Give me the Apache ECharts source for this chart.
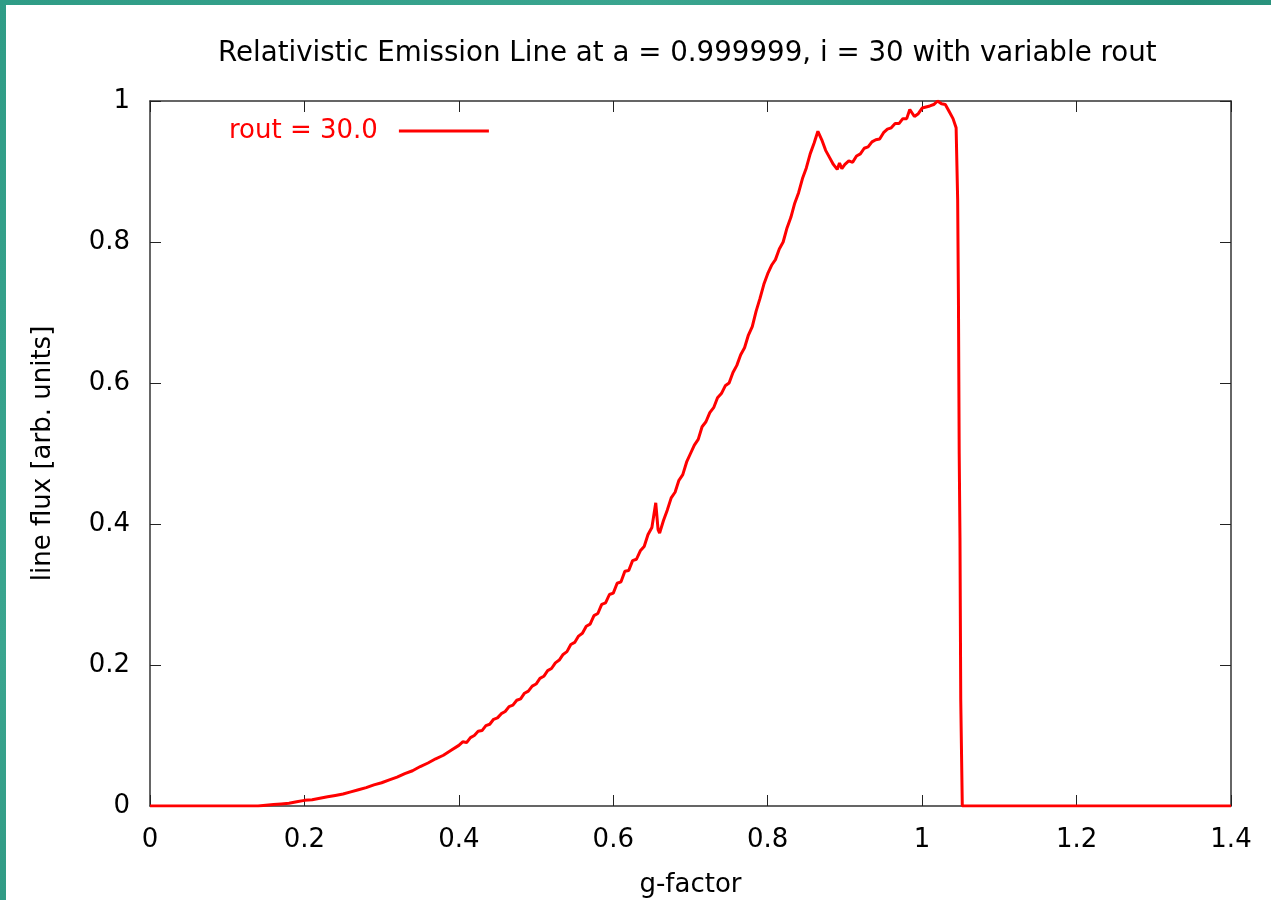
<!DOCTYPE html>
<html>
<head>
<meta charset="utf-8">
<script src="https://cdn.jsdelivr.net/npm/echarts@6/dist/echarts.min.js"></script>
<style>
  html, body { margin: 0; padding: 0; width: 1271px; height: 900px; overflow: hidden; }
  body {
    background: linear-gradient(135deg, #2f9c86 0%, #3aa58f 30%, #268f79 55%, #42a893 80%, #2a957f 100%);
    position: relative;
  }
  #chart { position: absolute; left: 6px; top: 5px; width: 1265px; height: 895px; background: #ffffff; }
</style>
</head>
<body>
<div id="chart"></div>
<script>
// ---- data ----
const titleText = 'Relativistic Emission Line at a = 0.999999, i = 30 with variable rout';
const xAxisName = 'g-factor';
const yAxisName = 'line flux [arb. units]';
const seriesName = 'rout = 30.0';

const gFactor = [
  0.000, 0.050, 0.100, 0.140, 0.150, 0.160, 0.170, 0.180, 0.190, 0.200,
  0.210, 0.220, 0.230, 0.240, 0.250, 0.260, 0.270, 0.280, 0.290, 0.300,
  0.310, 0.320, 0.330, 0.340, 0.350, 0.360, 0.370, 0.380, 0.390, 0.400,
  0.405, 0.410, 0.415, 0.420, 0.425, 0.430, 0.435, 0.440, 0.445, 0.450,
  0.455, 0.460, 0.465, 0.470, 0.475, 0.480, 0.485, 0.490, 0.495, 0.500,
  0.505, 0.510, 0.515, 0.520, 0.525, 0.530, 0.535, 0.540, 0.545, 0.550,
  0.555, 0.560, 0.565, 0.570, 0.575, 0.580, 0.585, 0.590, 0.595, 0.600,
  0.605, 0.610, 0.615, 0.620, 0.625, 0.630, 0.635, 0.640, 0.645, 0.650,
  0.655, 0.658, 0.660, 0.665, 0.670, 0.675, 0.680, 0.685, 0.690, 0.695,
  0.700, 0.705, 0.710, 0.715, 0.720, 0.725, 0.730, 0.735, 0.740, 0.745,
  0.750, 0.755, 0.760, 0.765, 0.770, 0.775, 0.780, 0.785, 0.790, 0.795,
  0.800, 0.805, 0.810, 0.815, 0.820, 0.825, 0.830, 0.835, 0.840, 0.845,
  0.850, 0.855, 0.860, 0.865, 0.870, 0.875, 0.880, 0.885, 0.890, 0.893,
  0.896, 0.900, 0.905, 0.910, 0.915, 0.920, 0.925, 0.930, 0.935, 0.940,
  0.945, 0.950, 0.955, 0.960, 0.965, 0.970, 0.975, 0.980, 0.984, 0.990,
  0.995, 1.000, 1.010, 1.015, 1.020, 1.025, 1.030, 1.035, 1.040, 1.044,
  1.046, 1.047, 1.048, 1.049, 1.050, 1.052, 1.100, 1.200, 1.300, 1.400
];
const lineFlux = [
  0.000, 0.000, 0.000, 0.000, 0.001, 0.002, 0.003, 0.004, 0.006, 0.008,
  0.009, 0.011, 0.013, 0.015, 0.017, 0.020, 0.023, 0.026, 0.030, 0.033,
  0.037, 0.041, 0.046, 0.050, 0.056, 0.061, 0.067, 0.072, 0.079, 0.086,
  0.091, 0.090, 0.097, 0.100, 0.106, 0.107, 0.114, 0.116, 0.123, 0.125,
  0.131, 0.134, 0.141, 0.143, 0.150, 0.152, 0.160, 0.163, 0.170, 0.173,
  0.181, 0.184, 0.192, 0.195, 0.203, 0.207, 0.215, 0.219, 0.229, 0.232,
  0.241, 0.245, 0.255, 0.258, 0.270, 0.273, 0.286, 0.288, 0.300, 0.302,
  0.316, 0.318, 0.333, 0.334, 0.348, 0.350, 0.362, 0.368, 0.385, 0.395,
  0.430, 0.392, 0.387, 0.405, 0.420, 0.437, 0.445, 0.462, 0.470, 0.488,
  0.500, 0.512, 0.520, 0.538, 0.545, 0.558, 0.565, 0.579, 0.585, 0.596,
  0.600, 0.615, 0.625, 0.640, 0.650, 0.668, 0.680, 0.702, 0.720, 0.740,
  0.755, 0.767, 0.775, 0.790, 0.800, 0.820, 0.835, 0.855, 0.870, 0.890,
  0.905, 0.925, 0.940, 0.957, 0.945, 0.930, 0.920, 0.910, 0.903, 0.912,
  0.904, 0.910, 0.915, 0.913, 0.922, 0.925, 0.933, 0.935, 0.942, 0.945,
  0.946, 0.955, 0.960, 0.962, 0.968, 0.968, 0.975, 0.975, 0.988, 0.978,
  0.982, 0.990, 0.993, 0.995, 1.000, 0.996, 0.995, 0.985, 0.975, 0.962,
  0.860, 0.720, 0.500, 0.380, 0.150, 0.000, 0.000, 0.000, 0.000, 0.000
];
const xTicks = { min: 0, max: 1.4, interval: 0.2 };
const yTicks = { min: 0, max: 1, interval: 0.2 };

const points = gFactor.map((g, i) => [g, lineFlux[i]]);

const fontFam = '"DejaVu Sans", Verdana, sans-serif';
const chart = echarts.init(document.getElementById('chart'), null, { renderer: 'canvas' });

const axisLineStyle = { color: '#333333', width: 1.5 };
const tickCommon = { show: true, inside: true, length: 11, lineStyle: { color: '#222222', width: 1 } };

chart.setOption({
  backgroundColor: '#ffffff',
  animation: false,
  title: {
    text: titleText,
    left: 207,
    top: 30,
    textStyle: { fontFamily: fontFam, fontSize: 27.7, fontWeight: 'normal', color: '#000000' }
  },
  legend: {
    show: true,
    left: 218,
    top: 108,
    align: 'right',
    itemWidth: 90,
    itemHeight: 14,
    data: [{ name: seriesName, icon: 'path://M0,0 L90,0 L90,3 L0,3 Z' }],
    textStyle: { fontFamily: fontFam, fontSize: 26, color: '#ff0000', padding: [0, 16, 0, 0] }
  },
  grid: { left: 144, top: 96, right: 40, bottom: 94, show: false, outerBoundsMode: 'none', containLabel: false },
  xAxis: [{
    type: 'value',
    min: xTicks.min, max: xTicks.max, interval: xTicks.interval,
    name: xAxisName, nameLocation: 'middle', nameGap: 66,
    nameTextStyle: { fontFamily: fontFam, fontSize: 26, color: '#000000' },
    axisLine: { show: true, onZero: false, lineStyle: axisLineStyle },
    axisTick: tickCommon,
    axisLabel: { fontFamily: fontFam, fontSize: 26, color: '#000000', margin: 21 },
    splitLine: { show: false }
  }, {
    type: 'value', position: 'top',
    min: xTicks.min, max: xTicks.max, interval: xTicks.interval,
    axisLine: { show: true, onZero: false, lineStyle: axisLineStyle },
    axisTick: tickCommon,
    axisLabel: { show: false },
    splitLine: { show: false }
  }],
  yAxis: [{
    type: 'value',
    min: yTicks.min, max: yTicks.max, interval: yTicks.interval,
    name: yAxisName, nameLocation: 'middle', nameGap: 94,
    nameTextStyle: { fontFamily: fontFam, fontSize: 26, color: '#000000' },
    axisLine: { show: true, onZero: false, lineStyle: axisLineStyle },
    axisTick: tickCommon,
    axisLabel: { fontFamily: fontFam, fontSize: 26, color: '#000000', margin: 20 },
    splitLine: { show: false }
  }, {
    type: 'value', position: 'right',
    min: yTicks.min, max: yTicks.max, interval: yTicks.interval,
    axisLine: { show: true, onZero: false, lineStyle: axisLineStyle },
    axisTick: tickCommon,
    axisLabel: { show: false },
    splitLine: { show: false }
  }],
  series: [{
    name: seriesName,
    type: 'line',
    xAxisIndex: 0, yAxisIndex: 0,
    data: points,
    showSymbol: false,
    symbol: 'none',
    smooth: false,
    color: '#ff0000',
    lineStyle: { color: '#ff0000', width: 3 },
    z: 3
  }]
});
</script>
</body>
</html>
